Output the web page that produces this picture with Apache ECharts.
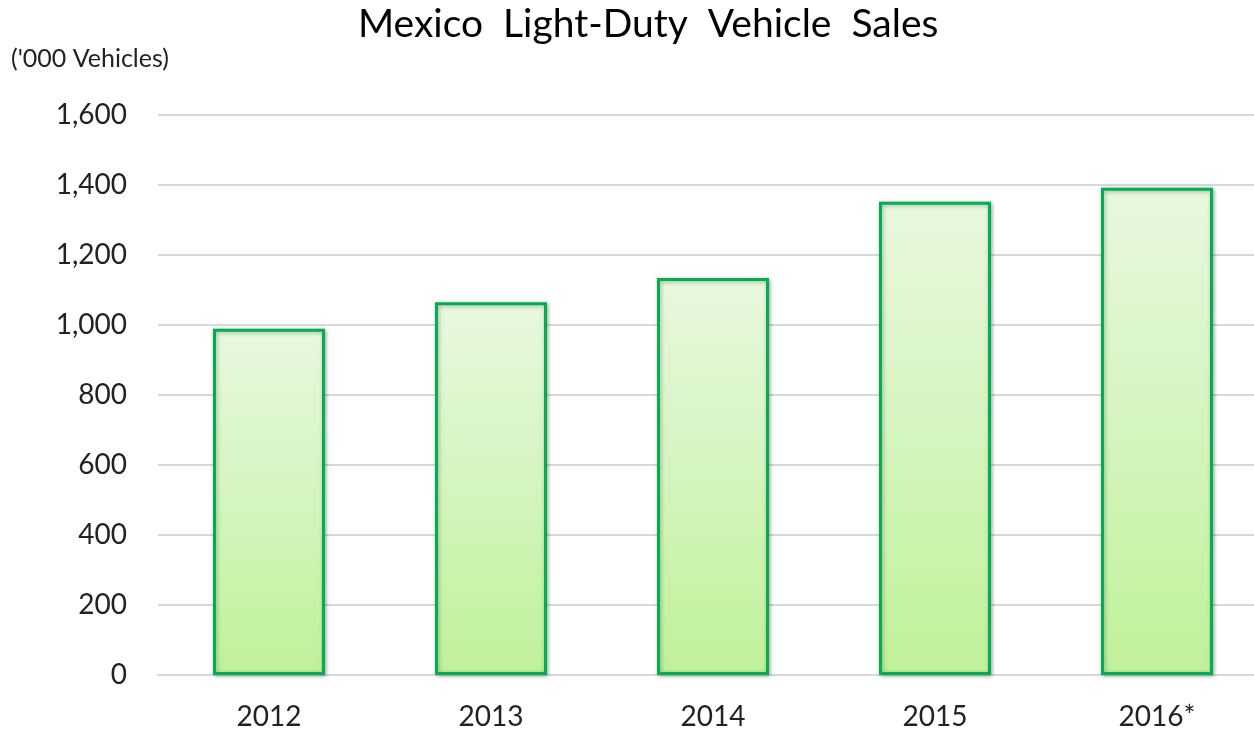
<!DOCTYPE html>
<html>
<head>
<meta charset="utf-8">
<script src="https://cdn.jsdelivr.net/npm/echarts@6/dist/echarts.min.js"></script>
<style>
  html, body { margin: 0; padding: 0; background: #fff; }
  #chart { width: 1254px; height: 734px; }
</style>
</head>
<body>
<div id="chart"></div>
<script>
const years = ['2012', '2013', '2014', '2015', '2016*']
const sales = [989, 1065, 1134, 1352, 1392]
const yTicks = [0, 200, 400, 600, 800, 1000, 1200, 1400, 1600]

const FONT = 'Lato'

var myChart = echarts.init(document.getElementById('chart'), null, { renderer: 'canvas' })

var option = {
  animation: false,
  title: {
    text: 'Mexico  Light-Duty  Vehicle  Sales',
    left: 353,
    top: 0,
    textStyle: { fontFamily: FONT, fontSize: 39, fontWeight: 'normal', color: '#000' }
  },
  graphic: [{
    type: 'text',
    left: 11,
    top: 46,
    style: { text: "('000 Vehicles)", font: '25px ' + FONT, fill: '#222' }
  }],
  // grid runs a bit past the right edge, as in the original
  grid: { left: 158, top: 115, right: -14, bottom: 59, outerBoundsMode: 'none' },
  xAxis: {
    type: 'category',
    data: years,
    axisTick: { show: false },
    axisLine: { lineStyle: { color: '#d9d9d9', width: 2 } },
    axisLabel: { fontFamily: FONT, fontSize: 28, color: '#222', margin: 28 }
  },
  yAxis: {
    type: 'value',
    min: yTicks[0],
    max: yTicks[yTicks.length - 1],
    interval: 200,
    axisLine: { show: false },
    axisTick: { show: false },
    splitLine: { lineStyle: { color: '#d9d9d9', width: 2 } },
    axisLabel: {
      fontFamily: FONT, fontSize: 28, color: '#222', margin: 31,
      formatter: v => v.toLocaleString('en-US')
    }
  },
  series: [{
    type: 'bar',
    data: sales,
    barWidth: 112,
    itemStyle: {
      color: new echarts.graphic.LinearGradient(0, 0, 0, 1, [
        { offset: 0, color: '#e8f8e0' },
        { offset: 1, color: '#c0f19a' }
      ]),
      borderColor: '#00b050',
      borderWidth: 3,
      shadowColor: 'rgba(0,0,0,0.3)',
      shadowBlur: 4,
      shadowOffsetX: 1,
      shadowOffsetY: 1
    }
  }]
}

myChart.setOption(option, true)
</script>
</body>
</html>
